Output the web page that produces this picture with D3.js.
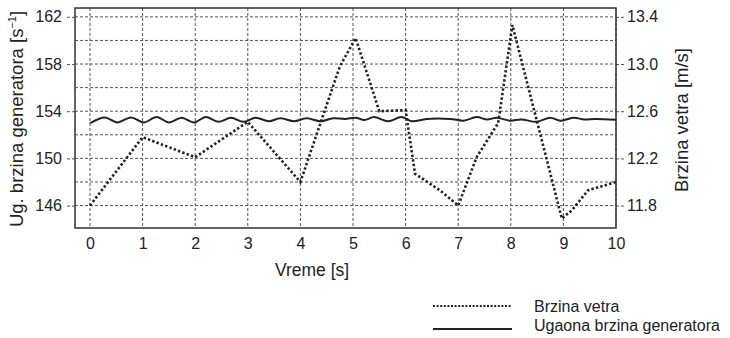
<!DOCTYPE html>
<html>
<head>
<meta charset="utf-8">
<script src="https://cdn.jsdelivr.net/npm/d3@7"></script>
<style>
  html, body { margin: 0; padding: 0; background: #fff; }
  svg { display: block; }
  text { font-family: Arial, "Liberation Sans", sans-serif; fill: #222; }
</style>
</head>
<body>
<svg id="chart" width="730" height="338"></svg>
<script>
// ---- data ----
const xTicks = [0, 1, 2, 3, 4, 5, 6, 7, 8, 9, 10];
const leftTicks = [146, 150, 154, 158, 162];
const leftGrid = [146, 148, 150, 152, 154, 156, 158, 160, 162];
const rightTicks = [11.8, 12.2, 12.6, 13.0, 13.4];

// wind speed [m/s] (right axis)
const windT = [0, 1, 2, 3, 4, 4.75, 5.05, 5.5, 6.0, 6.18, 6.65, 7, 7.35, 7.76, 8.03, 8.97, 9.16, 9.47, 9.7, 10];
const windV = [11.80, 12.38, 12.21, 12.51, 12.00, 12.98, 13.22, 12.60, 12.61, 12.07, 11.93, 11.80, 12.21, 12.50, 13.33, 11.69, 11.76, 11.93, 11.96, 12.00];

// generator angular speed [1/s] (left axis)
const genT = [0, 0.28, 0.52, 0.78, 1.02, 1.27, 1.5, 1.74, 1.98, 2.2, 2.44, 2.68, 2.92, 3.15, 3.4, 3.62, 3.88, 4.12, 4.38, 4.62, 4.85, 5.05, 5.22, 5.4, 5.67, 5.92, 6.12, 6.4, 6.85, 7.1, 7.35, 7.55, 7.73, 7.98, 8.2, 8.49, 8.75, 8.94, 9.19, 9.4, 9.6, 10];
const genV = [152.98, 153.47, 153.05, 153.47, 153.05, 153.5, 153.05, 153.45, 153.05, 153.5, 153.1, 153.45, 153.1, 153.45, 153.15, 153.4, 153.15, 153.4, 153.15, 153.4, 153.35, 153.45, 153.25, 153.5, 153.15, 153.5, 153.15, 153.35, 153.35, 153.2, 153.5, 153.3, 153.45, 153.2, 153.3, 153.1, 153.45, 153.2, 153.45, 153.3, 153.35, 153.28];

const legendLabels = ["Brzina vetra", "Ugaona brzina generatora"];

// ---- layout ----
const plot = { left: 75, right: 616, top: 8, bottom: 228 };
const svg = d3.select("#chart");

const x = d3.scaleLinear().domain([-0.285, 10]).range([plot.left, plot.right]);
const yL = d3.scaleLinear().domain([144.1, 162.75]).range([plot.bottom, plot.top]);
const yR = d3.scaleLinear().domain([11.61, 13.475]).range([plot.bottom, plot.top]);

const gridColor = "#555";
const dash = "3,2";

// horizontal grid
svg.append("g").selectAll("line").data(leftGrid).join("line")
  .attr("x1", plot.left).attr("x2", plot.right)
  .attr("y1", d => yL(d)).attr("y2", d => yL(d))
  .attr("stroke", gridColor).attr("stroke-width", 1).attr("stroke-dasharray", dash);

// vertical grid
svg.append("g").selectAll("line").data(xTicks).join("line")
  .attr("x1", d => x(d)).attr("x2", d => x(d))
  .attr("y1", plot.top).attr("y2", plot.bottom)
  .attr("stroke", gridColor).attr("stroke-width", 1).attr("stroke-dasharray", dash);

// left axis (dashed ticks outward)
const leftAxis = d3.axisLeft(yL).tickValues(leftTicks).tickSize(8).tickPadding(5).tickFormat(d3.format("d"));
const gL = svg.append("g").attr("transform", `translate(${plot.left},0)`).call(leftAxis);
gL.select(".domain").remove();
gL.selectAll(".tick line").attr("stroke", gridColor).attr("stroke-dasharray", "3,2");
gL.selectAll(".tick text").attr("font-size", 16).attr("font-family", "Arial, 'Liberation Sans', sans-serif").attr("fill", "#222");

// right axis
const rightAxis = d3.axisRight(yR).tickValues(rightTicks).tickSize(8).tickPadding(3).tickFormat(d3.format(".1f"));
const gR = svg.append("g").attr("transform", `translate(${plot.right},0)`).call(rightAxis);
gR.select(".domain").remove();
gR.selectAll(".tick line").attr("stroke", gridColor).attr("stroke-dasharray", "3,2");
gR.selectAll(".tick text").attr("font-size", 16).attr("font-family", "Arial, 'Liberation Sans', sans-serif").attr("fill", "#222");

// bottom axis
const bottomAxis = d3.axisBottom(x).tickValues(xTicks).tickSize(0).tickPadding(10).tickFormat(d3.format("d"));
const gB = svg.append("g").attr("transform", `translate(0,${plot.bottom})`).call(bottomAxis);
gB.select(".domain").remove();
gB.selectAll(".tick text").attr("font-size", 16).attr("font-family", "Arial, 'Liberation Sans', sans-serif").attr("fill", "#222");

// series
const windLine = d3.line().x((d, i) => x(windT[i])).y(d => yR(d));
svg.append("path").datum(windV)
  .attr("d", windLine)
  .attr("fill", "none").attr("stroke", "#222").attr("stroke-width", 2.6)
  .attr("stroke-dasharray", "2.4,2.2");

const genLine = d3.line().x((d, i) => x(genT[i])).y(d => yL(d)).curve(d3.curveCatmullRom.alpha(0.5));
svg.append("path").datum(genV)
  .attr("d", genLine)
  .attr("fill", "none").attr("stroke", "#222").attr("stroke-width", 2);

// frame
svg.append("rect")
  .attr("x", plot.left).attr("y", plot.top)
  .attr("width", plot.right - plot.left).attr("height", plot.bottom - plot.top)
  .attr("fill", "none").attr("stroke", "#333").attr("stroke-width", 1.5);

// axis titles
const lt = svg.append("text")
  .attr("transform", `translate(23,${(plot.top + plot.bottom) / 2 + 1}) rotate(-90)`)
  .attr("text-anchor", "middle").attr("font-size", 18.5);
lt.append("tspan").text("Ug. brzina generatora [s");
lt.append("tspan").attr("font-size", 11).attr("dy", -7).text("\u22121");
lt.append("tspan").attr("dy", 7).text("]");

svg.append("text")
  .attr("transform", `translate(688,120) rotate(-90)`)
  .attr("text-anchor", "middle").attr("font-size", 18.5)
  .text("Brzina vetra [m/s]");

svg.append("text")
  .attr("x", 312).attr("y", 276)
  .attr("text-anchor", "middle").attr("font-size", 17.5)
  .text("Vreme [s]");

// legend
const leg = svg.append("g");
const legY = [306, 329];
leg.append("line").attr("x1", 433).attr("x2", 512).attr("y1", legY[0]).attr("y2", legY[0])
  .attr("stroke", "#222").attr("stroke-width", 2.2).attr("stroke-dasharray", "2,1.6");
leg.append("line").attr("x1", 433).attr("x2", 512).attr("y1", legY[1]).attr("y2", legY[1])
  .attr("stroke", "#222").attr("stroke-width", 2);
leg.selectAll("text").data(legendLabels).join("text")
  .attr("x", 534).attr("y", (d, i) => legY[i] + (i === 0 ? 6 : 2))
  .attr("font-size", 16)
  .text(d => d);
</script>
</body>
</html>
